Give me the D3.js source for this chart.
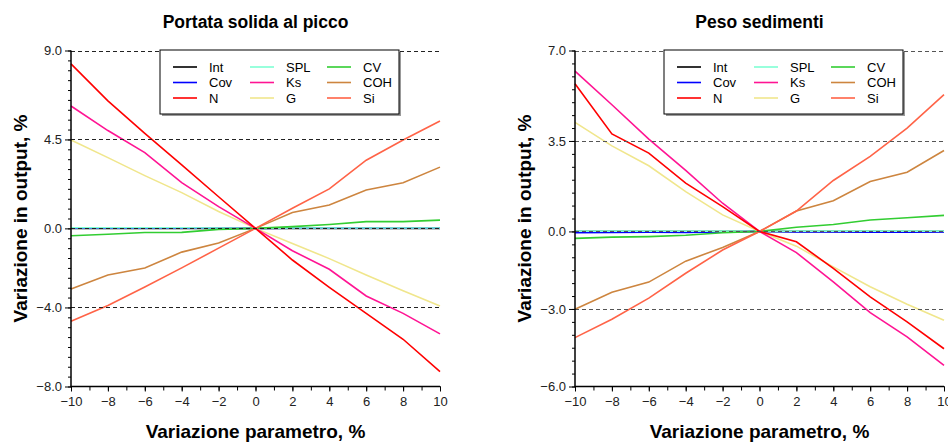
<!DOCTYPE html>
<html lang="it">
<head>
<meta charset="UTF-8">
<title>Analisi di sensitività</title>
<script src="https://d3js.org/d3.v7.min.js"></script>
<style>
  body { margin: 0; background: #fff; }
  svg { font-family: "Liberation Sans", Arial, sans-serif; }
</style>
</head>
<body>
<svg id="chart" width="948" height="442"></svg>
<script>
// variazione dei parametri, %
const xValues = [-10, -8, -6, -4, -2, 0, 2, 4, 6, 8, 10];

const seriesNames = ["Int", "Cov", "N", "SPL", "Ks", "G", "CV", "COH", "Si"];
const seriesColors = ["#000000", "#0000ff", "#ff0000", "#7fffd4", "#ff1493", "#f0e68c", "#32cd32", "#cd853f", "#ff6347"];

// Portata solida al picco
const portataInt = [0, 0, 0, 0, 0, 0, 0, 0, 0, 0, 0];
const portataCov = [0.01, 0.01, 0.01, 0.01, 0.01, 0, 0.01, 0.01, 0.01, 0.01, 0.01];
const portataN   = [8.32, 6.45, 4.81, 3.21, 1.6, 0, -1.6, -2.98, -4.3, -5.61, -7.25];
const portataSPL = [0.03, 0.03, 0.03, 0.03, 0.02, 0, 0.02, 0.02, 0.02, 0.02, 0.02];
const portataKs  = [6.19, 4.95, 3.83, 2.31, 1.1, 0, -1.13, -2.07, -3.42, -4.3, -5.34];
const portataG   = [4.47, 3.58, 2.67, 1.81, 0.85, 0, -0.76, -1.53, -2.36, -3.15, -3.93];
const portataCV  = [-0.37, -0.3, -0.21, -0.2, -0.05, 0, 0.09, 0.2, 0.34, 0.34, 0.42];
const portataCOH = [-3.07, -2.36, -2.0, -1.2, -0.74, 0, 0.8, 1.18, 1.94, 2.31, 3.1];
const portataSi  = [-4.7, -3.9, -2.97, -2.0, -1.0, 0, 1.02, 2.0, 3.45, 4.47, 5.43];

// Peso sedimenti
const pesoInt = [0, 0, 0, 0, 0, 0, 0, 0, 0, 0, 0];
const pesoCov = [-0.05, -0.04, -0.03, -0.04, -0.02, 0, -0.02, -0.02, -0.03, -0.03, -0.02];
const pesoN   = [5.71, 3.77, 3.03, 1.87, 0.96, 0, -0.4, -1.43, -2.53, -3.5, -4.54];
const pesoSPL = [0.01, 0.01, 0.01, 0.01, 0.01, 0, 0.01, 0.01, 0.01, 0.01, 0.01];
const pesoKs  = [6.2, 4.9, 3.57, 2.36, 1.09, 0, -0.82, -1.95, -3.14, -4.08, -5.18];
const pesoG   = [4.22, 3.31, 2.54, 1.54, 0.64, 0, -0.57, -1.37, -2.14, -2.82, -3.44];
const pesoCV  = [-0.27, -0.22, -0.2, -0.15, -0.05, 0, 0.16, 0.27, 0.44, 0.53, 0.62];
const pesoCOH = [-3.01, -2.35, -1.96, -1.15, -0.62, 0, 0.79, 1.19, 1.93, 2.29, 3.13];
const pesoSi  = [-4.11, -3.4, -2.58, -1.62, -0.72, 0, 0.79, 1.97, 2.9, 4.0, 5.29];

const xTicks = [-10, -8, -6, -4, -2, 0, 2, 4, 6, 8, 10];
const portataYTicks = [9.0, 4.5, 0.0, -4.0, -8.0];
const pesoYTicks = [7.0, 3.5, 0.0, -3.0, -6.0];

const panels = [
  {
    title: "Portata solida al picco",
    left: 71, yDomain: [-8, 9], yTicks: portataYTicks, gridColor: "#222",
    series: [portataInt, portataCov, portataN, portataSPL, portataKs, portataG, portataCV, portataCOH, portataSi]
  },
  {
    title: "Peso sedimenti",
    left: 575, yDomain: [-6, 7], yTicks: pesoYTicks, gridColor: "#555",
    series: [pesoInt, pesoCov, pesoN, pesoSPL, pesoKs, pesoG, pesoCV, pesoCOH, pesoSi]
  }
];

const svg = d3.select("#chart");
const plotTop = 50.5, plotBottom = 386.5, plotW = 369;

// ordine di disegno: Int e Cov restano sotto SPL, come nel grafico originale
const drawOrder = [0, 1, 3, 6, 7, 8, 5, 4, 2];

panels.forEach(p => {
  const x = d3.scaleLinear().domain([-10, 10]).range([p.left, p.left + plotW]);
  const y = d3.scaleLinear().domain(p.yDomain).range([plotBottom, plotTop]);
  const g = svg.append("g");

  // titolo
  g.append("text")
    .attr("x", p.left + plotW / 2).attr("y", 28)
    .attr("text-anchor", "middle")
    .style("font-size", "17.5px").style("font-weight", "bold")
    .text(p.title);

  // linee delle serie
  const line = d3.line().x((d, i) => x(xValues[i])).y(d => y(d));
  drawOrder.forEach(k => {
    g.append("path")
      .datum(p.series[k])
      .attr("fill", "none")
      .attr("stroke", seriesColors[k])
      .attr("stroke-width", 1.6)
      .attr("d", line);
  });

  // griglia tratteggiata ai tick principali
  g.selectAll(".grid")
    .data(p.yTicks.filter(t => t !== p.yDomain[0]))
    .enter().append("line")
    .attr("x1", p.left).attr("x2", p.left + plotW)
    .attr("y1", d => Math.round(y(d)) + 0.5).attr("y2", d => Math.round(y(d)) + 0.5)
    .attr("stroke", p.gridColor).attr("stroke-width", 1)
    .attr("stroke-dasharray", "4,3");

  // asse y
  const yAxis = g.append("g").attr("transform", `translate(${p.left},0)`);
  yAxis.call(d3.axisLeft(y).tickValues(d3.range(p.yDomain[0], p.yDomain[1] + 0.01, 0.5)).tickSize(3).tickFormat(""));
  yAxis.append("g").call(d3.axisLeft(y).tickValues(p.yTicks).tickSize(6).tickFormat(d => (d < 0 ? "\u2212" : "") + Math.abs(d).toFixed(1)).tickPadding(3));
  yAxis.selectAll("path.domain").remove();
  yAxis.selectAll("text").style("font-size", "13px").attr("fill", "#222").style("font-family", "'Liberation Sans', Arial, sans-serif");
  yAxis.selectAll("line").attr("stroke", "#000");
  yAxis.append("line").attr("x1", 0).attr("x2", 0).attr("y1", plotTop).attr("y2", plotBottom + 0.5)
    .attr("stroke", "#000").attr("stroke-width", 1.5);

  // asse x
  const xAxis = g.append("g").attr("transform", `translate(0,${plotBottom})`);
  xAxis.call(d3.axisBottom(x).tickValues(d3.range(-10, 11, 1)).tickSize(4).tickFormat(""));
  xAxis.append("g").call(d3.axisBottom(x).tickValues(xTicks).tickSize(5).tickPadding(5).tickFormat(d => d < 0 ? "\u2212" + Math.abs(d) : d));
  xAxis.selectAll("path.domain").remove();
  xAxis.selectAll("text").style("font-size", "13px").attr("fill", "#222").style("font-family", "'Liberation Sans', Arial, sans-serif");
  xAxis.selectAll("line").attr("stroke", "#000");
  xAxis.append("line").attr("x1", p.left - 0.5).attr("x2", p.left + plotW).attr("y1", 0).attr("y2", 0)
    .attr("stroke", "#000").attr("stroke-width", 1.5);

  // titoli degli assi
  g.append("text")
    .attr("x", p.left + plotW / 2).attr("y", 438)
    .attr("text-anchor", "middle")
    .style("font-size", "19px").style("font-weight", "bold")
    .text("Variazione parametro, %");
  g.append("text")
    .attr("transform", `translate(${p.left - 44},${(plotTop + plotBottom) / 2}) rotate(-90)`)
    .attr("text-anchor", "middle")
    .style("font-size", "19px").style("font-weight", "bold")
    .text("Variazione in output, %");

  // legenda
  const lx = p.left + 89, ly = 50, lw = 239, lh = 64;
  const leg = g.append("g");
  leg.append("rect").attr("x", lx + 2).attr("y", ly + 2).attr("width", lw).attr("height", lh).attr("fill", "#999");
  leg.append("rect").attr("x", lx).attr("y", ly).attr("width", lw).attr("height", lh)
    .attr("fill", "#fff").attr("stroke", "#000").attr("stroke-width", 1);
  seriesNames.forEach((name, i) => {
    const col = Math.floor(i / 3), row = i % 3;
    const ex = lx + 13 + col * 77, ey = ly + 17 + row * 15.5;
    leg.append("line").attr("x1", ex).attr("x2", ex + 24).attr("y1", ey).attr("y2", ey)
      .attr("stroke", seriesColors[i]).attr("stroke-width", 1.6);
    leg.append("text").attr("x", ex + 36).attr("y", ey + 4.5)
      .style("font-size", "13px").text(name);
  });
});
</script>
</body>
</html>
